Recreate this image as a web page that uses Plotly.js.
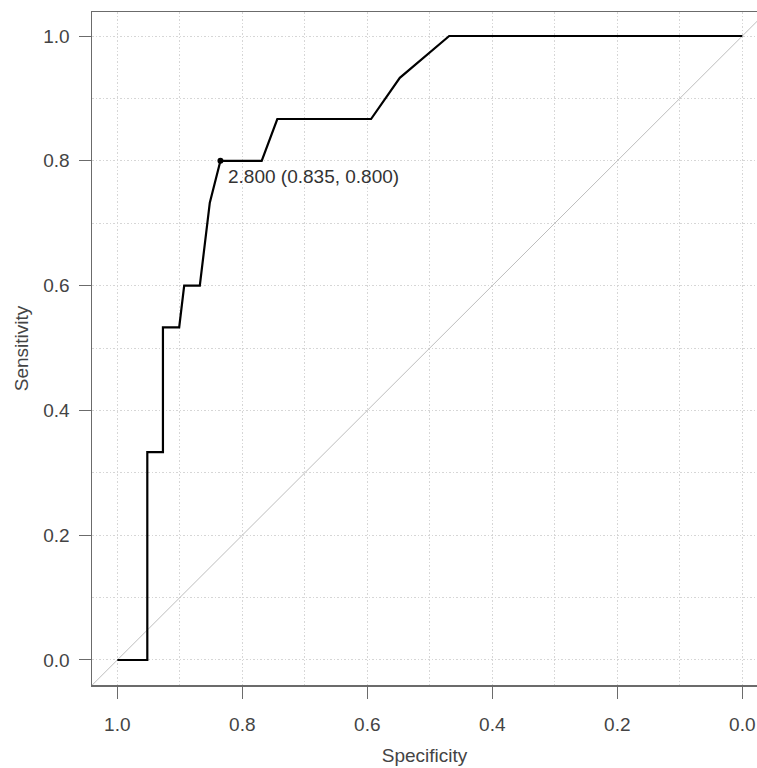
<!DOCTYPE html>
<html>
<head>
<meta charset="utf-8">
<script src="https://cdn.plot.ly/plotly-3.0.1.min.js"></script>
<style>
html, body { margin: 0; padding: 0; background: #ffffff; overflow: hidden; }
#chart { width: 757px; height: 768px; }
</style>
</head>
<body>
<div id="chart"></div>
<script>
// ROC curve (specificity, sensitivity)
const specificity = [1.000, 0.952, 0.952, 0.927, 0.927, 0.901, 0.893, 0.868, 0.852, 0.835, 0.769, 0.744, 0.594, 0.548, 0.469, 0.000];
const sensitivity = [0.000, 0.000, 0.333, 0.333, 0.533, 0.533, 0.600, 0.600, 0.733, 0.800, 0.800, 0.867, 0.867, 0.933, 1.000, 1.000];

// Chance diagonal
const diagSpec = [1.1, -0.1];
const diagSens = [-0.1, 1.1];

// Best threshold point
const bestThreshold = [2.800];
const bestSpec = [0.835];
const bestSens = [0.800];

const tickVals = [1.0, 0.8, 0.6, 0.4, 0.2, 0.0];
const tickText = ["1.0", "0.8", "0.6", "0.4", "0.2", "0.0"];

const font = "Liberation Sans, Arial, sans-serif";
const gridColor = "#d6d6d6";
const gridDash = "1.5px,2px";
const axisColor = "#6b6b6b";
const textColor = "#444444";

const traces = [
  {
    x: diagSpec, y: diagSens, mode: "lines", type: "scatter",
    line: { color: "#bdbdbd", width: 1 }, hoverinfo: "skip", showlegend: false
  },
  {
    x: specificity, y: sensitivity, mode: "lines", type: "scatter",
    line: { color: "#000000", width: 2.2 }, showlegend: false
  },
  {
    x: bestSpec, y: bestSens, mode: "markers", type: "scatter",
    marker: { color: "#000000", size: 6 }, showlegend: false
  }
];

const annText = bestThreshold[0].toFixed(3) + " (" + bestSpec[0].toFixed(3) + ", " + bestSens[0].toFixed(3) + ")";

const layout = {
  width: 757, height: 768,
  margin: { l: 92, r: 0, t: 12, b: 83 },
  paper_bgcolor: "#ffffff", plot_bgcolor: "#ffffff",
  font: { family: font, size: 19, color: textColor },
  showlegend: false,
  xaxis: {
    range: [1.0405, -0.0235],
    tickvals: tickVals, ticktext: tickText,
    ticks: "outside", ticklen: 12, tickwidth: 1, tickcolor: axisColor,
    ticklabelstandoff: 10,
    showline: true, linecolor: axisColor, linewidth: 1.5, mirror: true,
    showgrid: true, gridcolor: gridColor, griddash: gridDash, gridwidth: 1,
    minor: { dtick: 0.1, tick0: 0, showgrid: true, gridcolor: gridColor, griddash: gridDash, gridwidth: 1, ticks: "" },
    zeroline: false,
    tickfont: { family: font, size: 19, color: textColor },
    title: { text: "Specificity", font: { family: font, size: 19, color: textColor }, standoff: 14 }
  },
  yaxis: {
    range: [-0.0401, 1.0385],
    tickvals: [0.0, 0.2, 0.4, 0.6, 0.8, 1.0],
    ticktext: ["0.0", "0.2", "0.4", "0.6", "0.8", "1.0"],
    ticks: "outside", ticklen: 12, tickwidth: 1, tickcolor: axisColor,
    ticklabelstandoff: 5,
    showline: true, linecolor: axisColor, linewidth: 1.5, mirror: false,
    showgrid: true, gridcolor: gridColor, griddash: gridDash, gridwidth: 1,
    minor: { dtick: 0.1, tick0: 0, showgrid: true, gridcolor: gridColor, griddash: gridDash, gridwidth: 1, ticks: "" },
    zeroline: false,
    tickfont: { family: font, size: 19, color: textColor },
    title: { text: "Sensitivity", font: { family: font, size: 19, color: textColor }, standoff: 9 }
  },
  annotations: [
    {
      x: bestSpec[0], y: bestSens[0], xref: "x", yref: "y",
      text: annText, showarrow: false,
      xanchor: "left", yanchor: "middle", xshift: 6, yshift: -16,
      font: { family: font, size: 19, color: "#333333" }
    }
  ]
};

Plotly.newPlot("chart", traces, layout, { staticPlot: true, displayModeBar: false });
</script>
</body>
</html>
